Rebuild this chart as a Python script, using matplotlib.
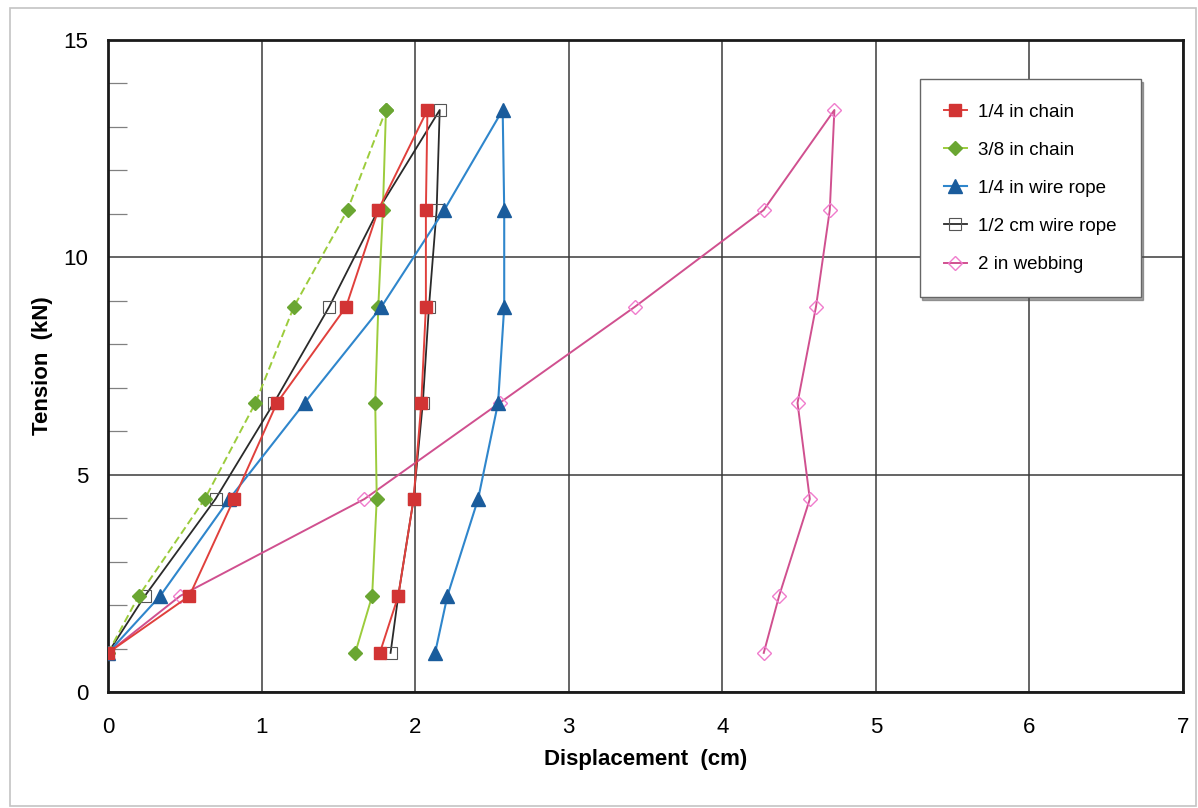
import matplotlib
matplotlib.use("Agg")
import matplotlib.pyplot as plt
from matplotlib.patches import Rectangle
from matplotlib.ticker import MultipleLocator

plt.rcParams['font.family'] = ['Liberation Sans', 'DejaVu Sans']

# Tension levels (kN): loading path up, then unloading path down
tension_up = [0.90, 2.21, 4.44, 6.65, 8.86, 11.09, 13.39]
tension_down = [11.09, 8.86, 6.65, 4.44, 2.21, 0.90]

# Displacement (cm) for each series
chain14_up = [0.00, 0.53, 0.82, 1.10, 1.55, 1.76, 2.08]
chain14_down = [2.07, 2.07, 2.04, 1.99, 1.89, 1.77]

chain38_up = [0.00, 0.20, 0.63, 0.96, 1.21, 1.56, 1.81]
chain38_down = [1.79, 1.76, 1.74, 1.75, 1.72, 1.61]

wire14_up = [0.00, 0.34, 0.79, 1.28, 1.78, 2.19, 2.57]
wire14_down = [2.58, 2.58, 2.54, 2.41, 2.21, 2.13]

wire12cm_up = [0.00, 0.24, 0.70, 1.08, 1.44, 1.76, 2.16]
wire12cm_down = [2.14, 2.09, 2.05, 1.99, 1.89, 1.84]

webbing_up = [0.00, 0.47, 1.67, 2.55, 3.43, 4.27, 4.73]
webbing_down = [4.70, 4.61, 4.49, 4.57, 4.37, 4.27]

labels = ["1/4 in chain", "3/8 in chain", "1/4 in wire rope",
          "1/2 cm wire rope", "2 in webbing"]

x_ticks = [0, 1, 2, 3, 4, 5, 6, 7]
y_ticks = [0, 5, 10, 15]

fig = plt.figure(figsize=(11.98, 8.08), dpi=100)
ax = fig.add_axes([108/1198, 1-692/808, (1183-108)/1198, (692-40)/808])

# outer frame
fig.patches.append(Rectangle((10/1198, 2/808), 1186/1198, 798/808,
                             transform=fig.transFigure, fill=False,
                             edgecolor='#c4c4c4', linewidth=1.2))

def path(up, down):
    return up + down, tension_up + tension_down

# 1/2 cm wire rope (black, open squares)
xs, ys = path(wire12cm_up, wire12cm_down)
ax.plot(xs, ys, color='#2a2a2a', lw=1.3, marker='s', ms=9,
        mfc='none', mec='#555555', mew=0.8, zorder=3, label=labels[3])

# 2 in webbing
ax.plot(webbing_up + webbing_down, tension_up + tension_down,
        color='#d0508f', lw=1.4, marker='D', ms=7, mfc='none',
        mec='#f07ccc', mew=1.0, zorder=3, label=labels[4])

# 3/8 in chain: loading dashed, unloading solid
ax.plot(chain38_up, tension_up, color='#9ccc3c', lw=1.4, ls=(0, (4, 2)),
        marker='D', ms=7, mfc='#6aa632', mec='#6aa632', zorder=4)
ax.plot([chain38_up[-1]] + chain38_down, [tension_up[-1]] + tension_down,
        color='#9ccc3c', lw=1.4, marker='D', ms=7, mfc='#6aa632',
        mec='#6aa632', zorder=4)
ax.plot([], [], color='#9ccc3c', lw=1.4, marker='D', ms=7,
        mfc='#6aa632', mec='#6aa632', label=labels[1])

# 1/4 in wire rope
xs, ys = path(wire14_up, wire14_down)
ax.plot(xs, ys, color='#2f86cc', lw=1.5, marker='^', ms=9.5,
        mfc='#1a5c9c', mec='#1a5c9c', zorder=5, label=labels[2])

# 1/4 in chain
xs, ys = path(chain14_up, chain14_down)
ax.plot(xs, ys, color='#e0403c', lw=1.4, marker='s', ms=9,
        mfc='#d23434', mec='#d23434', zorder=6, label=labels[0])

ax.set_xlim(0, 7)
ax.set_ylim(0, 15)
ax.set_xticks(x_ticks)
ax.set_yticks(y_ticks)
ax.yaxis.set_minor_locator(MultipleLocator(1))
ax.grid(True, which='major', color='#3a3a3a', lw=1.1)
ax.set_axisbelow(True)
ax.tick_params(axis='both', which='major', length=0, labelsize=16)
ax.tick_params(axis='x', pad=18)
ax.tick_params(axis='y', pad=14)
ax.tick_params(axis='y', which='minor', direction='in', length=14,
               width=0.9, color='#808080')
for s in ax.spines.values():
    s.set_linewidth(2.0)
    s.set_color('#1a1a1a')

ax.set_xlabel("Displacement  (cm)", fontsize=16, fontweight='bold', labelpad=8)
ax.set_ylabel("Tension  (kN)", fontsize=16, fontweight='bold', labelpad=8)

handles, labs = ax.get_legend_handles_labels()
order = [labs.index(l) for l in labels]
leg = ax.legend([handles[i] for i in order], [labs[i] for i in order],
                loc='upper left', bbox_to_anchor=(0.755, 0.94),
                fontsize=13.5, frameon=True, fancybox=False, shadow=True,
                edgecolor='#666666', handlelength=1.2, labelspacing=1.12,
                borderpad=1.3, handletextpad=0.6, borderaxespad=0)
leg.get_frame().set_linewidth(1.0)

fig.savefig("out.png", dpi=100)
